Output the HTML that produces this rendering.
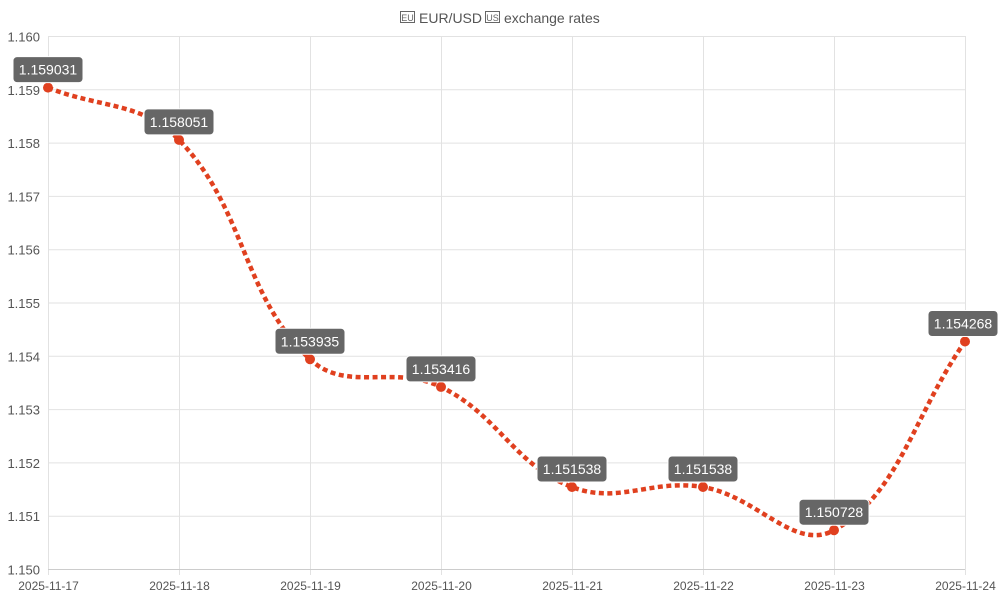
<!DOCTYPE html>
<html><head><meta charset="utf-8"><style>
body{margin:0;background:#fff;}
svg{display:block;font-family:"Liberation Sans",sans-serif;}
</style></head><body>
<svg id="c" width="1000" height="600" xmlns="http://www.w3.org/2000/svg">
<g fill="none" stroke="#666" stroke-width="1">
<rect x="400.5" y="11.5" width="14" height="11"/>
<rect x="485.5" y="11.5" width="14" height="11"/>
</g>
<text x="407.5" y="21" text-anchor="middle" font-size="9" fill="#666">EU</text>
<text x="492.5" y="21" text-anchor="middle" font-size="9" fill="#666">US</text>
<text x="419" y="23" font-size="14" fill="#555">EUR/USD</text>
<text x="504" y="23" font-size="14" fill="#555">exchange rates</text>
<g id="grid" stroke="#e2e2e2" stroke-width="1"></g>
<g id="ylab" font-size="13" fill="#555" text-anchor="end"></g>
<g id="xlab" font-size="12" fill="#555" text-anchor="middle"></g>
<path id="line" fill="none" stroke="#e0401f" stroke-width="4.5" stroke-dasharray="5,3.5"/>
<g id="pts"></g>
</svg>
<script>
var ns="http://www.w3.org/2000/svg";
function el(t,a,p,txt){var e=document.createElementNS(ns,t);for(var k in a)e.setAttribute(k,a[k]);if(txt!=null)e.textContent=txt;p.appendChild(e);return e;}
var L=48,R=965,T=36,B=569;
var g=document.getElementById('grid'),yl=document.getElementById('ylab'),xl=document.getElementById('xlab');
function Y(v){return T+(1.160-v)/0.010*(B-T);}
for(var i=0;i<=10;i++){var y=T+i*(B-T)/10+0.5;el('line',{x1:L,x2:R,y1:y,y2:y},g);el('text',{x:40,y:y+5},yl,(1.160-i*0.001).toFixed(3));}
var dates=['2025-11-17','2025-11-18','2025-11-19','2025-11-20','2025-11-21','2025-11-22','2025-11-23','2025-11-24'];
for(var i=0;i<8;i++){var x=L+i*(R-L)/7+0.5;el('line',{x1:x,x2:x,y1:T,y2:B+6},g);el('text',{x:x,y:590},xl,dates[i]);}
el('line',{x1:L,x2:R,y1:B+0.5,y2:B+0.5,stroke:'#ccc'},g);
var vals=[1.159031,1.158051,1.153935,1.153416,1.151538,1.151538,1.150728,1.154268];
var P=vals.map(function(v,i){return {x:L+i*(R-L)/7,y:Y(v)};});
var t=0.4,cp=[];
for(var i=0;i<P.length;i++){var pr=P[Math.max(0,i-1)],c=P[i],nx=P[Math.min(P.length-1,i+1)];
var d01=Math.hypot(c.x-pr.x,c.y-pr.y),d12=Math.hypot(nx.x-c.x,nx.y-c.y);
var s01=d01/(d01+d12)||0,s12=d12/(d01+d12)||0;var fa=t*s01,fb=t*s12;
cp.push({px:c.x-fa*(nx.x-pr.x),py:c.y-fa*(nx.y-pr.y),nx:c.x+fb*(nx.x-pr.x),ny:c.y+fb*(nx.y-pr.y)});}
var d='M'+P[0].x+','+P[0].y;
for(var i=1;i<P.length;i++)d+=' C'+cp[i-1].nx+','+cp[i-1].ny+' '+cp[i].px+','+cp[i].py+' '+P[i].x+','+P[i].y;
document.getElementById('line').setAttribute('d',d);
var pg=document.getElementById('pts');
P.forEach(function(p,i){el('circle',{cx:p.x,cy:p.y,r:5,fill:'#e0401f'},pg);
var w=70,h=26,bx=p.x-w/2;if(bx+w>998)bx=998-w;
el('rect',{x:bx,y:p.y-31,width:w,height:h,rx:4,fill:'#666',stroke:'#fff','stroke-width':1},pg);
el('text',{x:bx+w/2,y:p.y-13,'text-anchor':'middle','font-size':14,fill:'#fff'},pg,vals[i].toFixed(6));});
</script>
</body></html>
